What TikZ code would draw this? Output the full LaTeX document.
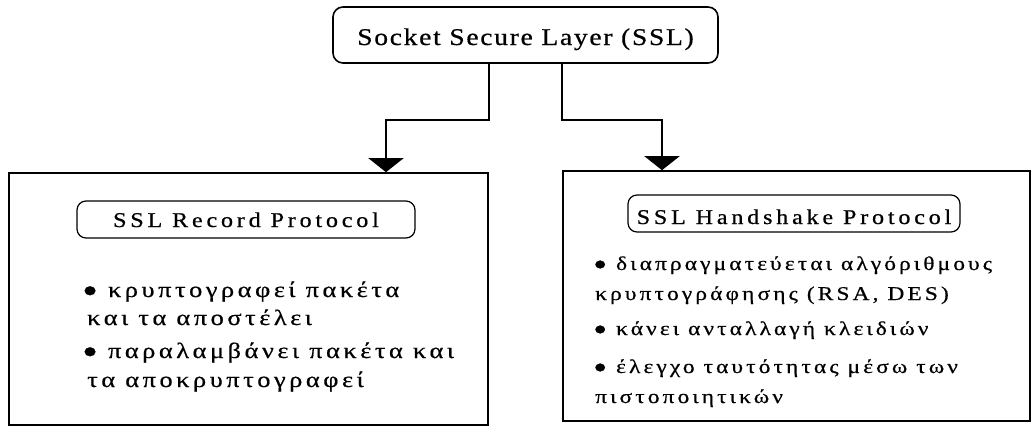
\documentclass[tikz,border=0pt]{standalone}
\usepackage{fontspec}
\setmainfont{Liberation Serif}
\newfontfamily\titlefont[LetterSpace=7,FakeStretch=1.15,FakeBold=0.6]{Liberation Serif}
\newfontfamily\pillfont[LetterSpace=18,FakeStretch=1.15,FakeBold=0.6]{Liberation Serif}
\newfontfamily\itemfont[LetterSpace=16,FakeStretch=1.2,FakeBold=0.6]{Liberation Serif}
\newcommand\bigbullet{\raisebox{-0.28em}{\scalebox{1.7}{•}}}
\usetikzlibrary{arrows.meta}
\begin{document}
\begin{tikzpicture}[x=1pt,y=-1pt,
  frame/.style={draw, line width=1.6pt, inner sep=0pt},
  pill/.style={draw, line width=1.2pt, rounded corners=9pt, inner sep=0pt,
    text depth=0pt, font=\pillfont\fontsize{21}{25}\selectfont},
  item/.style={anchor=base west, inner sep=0pt,
    font=\itemfont\fontsize{22}{26}\selectfont},
  smallitem/.style={item, font=\itemfont\fontsize{19.5}{24}\selectfont},
  link/.style={line width=1.5pt, -{Triangle[width=35pt,length=14pt]}}]
\useasboundingbox (0,0) rectangle (1033,426);

% main block
\node[frame, rounded corners=10pt, minimum width=385pt, minimum height=56pt,
  text height=20pt, text depth=0pt, font=\titlefont\fontsize{24}{28}\selectfont]
  (ssl) at (525.5,35) {Socket Secure Layer (SSL)};

% the two sub-protocol panels
\node[frame, minimum width=479pt, minimum height=252pt] (rec) at (248.5,299) {};
\node[frame, minimum width=467pt, minimum height=250pt] (hs) at (796.5,296) {};

\node[pill, minimum width=338pt, minimum height=37pt, text height=15pt]
  (recp) at (246,219.5) {SSL Record Protocol};
\node[pill, minimum width=332pt, minimum height=37pt, text height=21pt]
  (hsp) at (794,213.5) {SSL Handshake Protocol};

% record protocol duties
\node[item] (r1)  at (82,297) {\bigbullet{} κρυπτογραφεί πακέτα};
\node[item] (r1b) at (87,325) {και τα αποστέλει};
\node[item] (r2)  at (82,358) {\bigbullet{} παραλαμβάνει πακέτα και};
\node[item] (r2b) at (87,387) {τα αποκρυπτογραφεί};

% handshake protocol duties
\node[smallitem] (h1)  at (593,270) {\bigbullet{} διαπραγματεύεται αλγόριθμους};
\node[smallitem] (h1b) at (595,300) {κρυπτογράφησης (RSA, DES)};
\node[smallitem] (h2)  at (593,335) {\bigbullet{} κάνει ανταλλαγή κλειδιών};
\node[smallitem] (h3)  at (593,373) {\bigbullet{} έλεγχο ταυτότητας μέσω των};
\node[smallitem] (h3b) at (595,403) {πιστοποιητικών};

% connectors
\draw[link] (ssl.south -| rec.east) -- ++(0,56) -| ([xshift=137.5pt]rec.north);
\draw[link] (ssl.south -| hs.west) -- ++(0,56) -| ([xshift=-134.5pt]hs.north);
\end{tikzpicture}
\end{document}
